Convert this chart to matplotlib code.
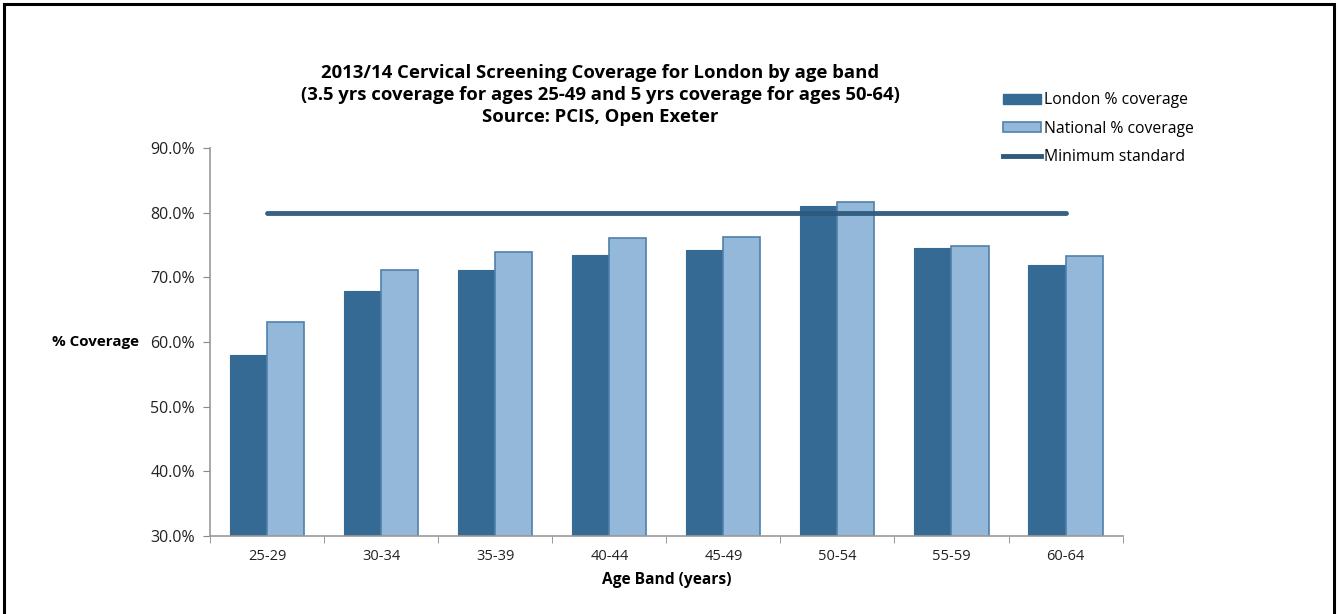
import numpy as np
import matplotlib.pyplot as plt
from matplotlib.lines import Line2D
from matplotlib.patches import Rectangle

age_bands = ['25-29', '30-34', '35-39', '40-44', '45-49', '50-54', '55-59', '60-64']
london = [58.0, 67.9, 71.1, 73.5, 74.2, 81.0, 74.6, 71.9]
national = [63.1, 71.1, 73.9, 76.1, 76.2, 81.6, 74.8, 73.3]
minimum_standard = 80.0

plt.rcParams['font.family'] = ['Open Sans', 'DejaVu Sans']

fig = plt.figure(figsize=(13.38, 6.14), dpi=100)
ax = fig.add_axes([0.157, 0.127, 0.682, 0.632])

x = np.arange(len(age_bands))
w = 0.325
ax.bar(x - w / 2, london, w, bottom=0, color='#346a93', edgecolor='#346a93',
       linewidth=0.8, label='London % coverage', zorder=2)
ax.bar(x + w / 2, national, w, bottom=0, color='#93b8d9', edgecolor='#4f80ab',
       linewidth=1.2, label='National % coverage', zorder=2)
ax.plot([x[0], x[-1]], [minimum_standard] * 2, color='#2d5a7d', linewidth=3.5,
        solid_capstyle='round', label='Minimum standard', zorder=3, alpha=0.95)

ax.set_ylim(30, 90)
ax.set_xlim(-0.5, len(age_bands) - 0.5)
ax.set_yticks(np.arange(30, 91, 10))
ax.set_yticklabels([f'{v:.1f}%' for v in np.arange(30, 91, 10)], fontsize=11.5, color='#222222')
ax.set_xticks(x)
ax.set_xticklabels(age_bands, fontsize=10.5, color='#222222')
ax.set_xticks(np.arange(-0.5, len(age_bands)), minor=True)
ax.tick_params(axis='x', which='major', length=0, pad=9)
ax.tick_params(axis='x', which='minor', length=5, color='#888888')
ax.tick_params(axis='y', length=5, color='#888888', pad=6)

for side in ['top', 'right']:
    ax.spines[side].set_visible(False)
for side in ['left', 'bottom']:
    ax.spines[side].set_color('#999999')
    ax.spines[side].set_linewidth(1.2)

ax.set_xlabel('Age Band (years)', fontsize=11.2, fontweight='bold', labelpad=6)
fig.text(95 / 1338, 1 - 342 / 614, '% Coverage', fontsize=10.9, fontweight='bold',
         ha='center', va='center')

fig.text(600 / 1338, 1 - 95 / 614,
         '2013/14 Cervical Screening Coverage for London by age band\n'
         '(3.5 yrs coverage for ages 25-49 and 5 yrs coverage for ages 50-64)\n'
         'Source: PCIS, Open Exeter',
         fontsize=13.3, fontweight='bold', ha='center', va='center', linespacing=1.27)

handles = [Rectangle((0, 0), 1, 1, facecolor='#346a93', edgecolor='#346a93'),
           Rectangle((0, 0), 1, 1, facecolor='#93b8d9', edgecolor='#4f80ab', linewidth=1.2),
           Line2D([0], [0], color='#2d5a7d', linewidth=3.5)]
fig.legend(handles, ['London % coverage', 'National % coverage', 'Minimum standard'],
           loc='upper left', bbox_to_anchor=(997 / 1338, 1 - 86 / 614), frameon=False,
           fontsize=11.3, handlelength=2.4, handleheight=0.6, labelspacing=0.8,
           handletextpad=0.2, borderaxespad=0)

# outer frame
fig.patches.append(Rectangle((4 / 1338, -0.01), 1330 / 1338, 1 - 4 / 614 + 0.01,
                             transform=fig.transFigure, fill=False,
                             edgecolor='black', linewidth=2.2))

fig.savefig('out.png', dpi=100)
